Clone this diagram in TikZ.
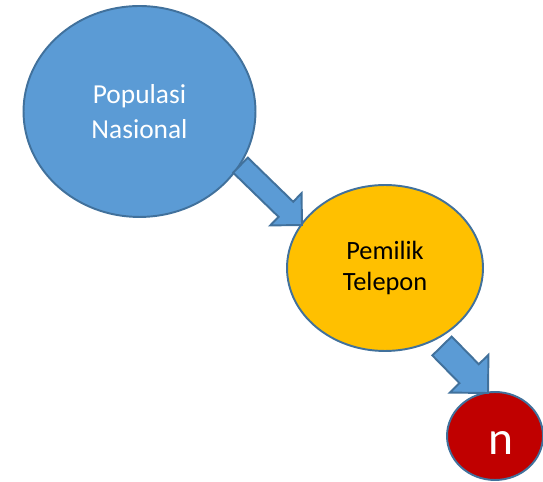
\documentclass[tikz,border=0pt]{standalone}
\usepackage{fontspec}
\setmainfont{Carlito}
\usepackage{tikz}
\usetikzlibrary{shapes,calc}
\definecolor{biru}{HTML}{5B9BD5}
\definecolor{garis}{HTML}{41719C}
\definecolor{kuning}{HTML}{FFC000}
\definecolor{merah}{HTML}{C00000}
\tikzstyle{bulat}=[ellipse,draw=garis,line width=1.1pt,inner sep=0,align=center]
\tikzstyle{panah}=[draw=garis,fill=biru,line width=1.1pt,line join=miter]

\begin{document}
\begin{tikzpicture}[x=0.02cm,y=0.02cm]
\useasboundingbox (0,0) rectangle (543,482);
\node (pop) at (139.5,370.5)[bulat,fill=biru,text=white,minimum width=4.64cm,minimum height=4.22cm,font=\fontsize{15.6}{19.5}\selectfont]{Populasi\\Nasional};
\node (tel) at (385,214)[bulat,fill=kuning,text=black,minimum width=3.92cm,minimum height=3.32cm,font=\fontsize{15}{17.6}\selectfont]{Pemilik\\Telepon};
\node (n) at (495,46)[bulat,fill=merah,text=white,minimum width=1.92cm,minimum height=1.76cm,font=\fontsize{27}{32}\selectfont]{\hspace*{0.22cm}\raisebox{-0.15cm}[\height][0pt]{n}};
\coordinate (a1) at (pop.-28);
\coordinate (b1) at (302,257);
\coordinate (h1) at ($(b1)!0.45cm!(a1)$);
\draw[panah] ($(a1)!0.21cm!90:(b1)$) -- ($(h1)!0.21cm!90:(b1)$) -- ($(h1)!0.45cm!90:(b1)$) -- (b1)
  -- ($(h1)!0.45cm!-90:(b1)$) -- ($(h1)!0.21cm!-90:(b1)$) -- ($(a1)!0.21cm!-90:(b1)$) -- cycle;
\coordinate (a2) at (442,136);
\coordinate (b2) at (488,89);
\coordinate (h2) at ($(b2)!0.54cm!(a2)$);
\draw[panah] ($(a2)!0.27cm!90:(b2)$) -- ($(h2)!0.27cm!90:(b2)$) -- ($(h2)!0.54cm!90:(b2)$) -- (b2)
  -- ($(h2)!0.54cm!-90:(b2)$) -- ($(h2)!0.27cm!-90:(b2)$) -- ($(a2)!0.27cm!-90:(b2)$) -- cycle;
\end{tikzpicture}
\end{document}
